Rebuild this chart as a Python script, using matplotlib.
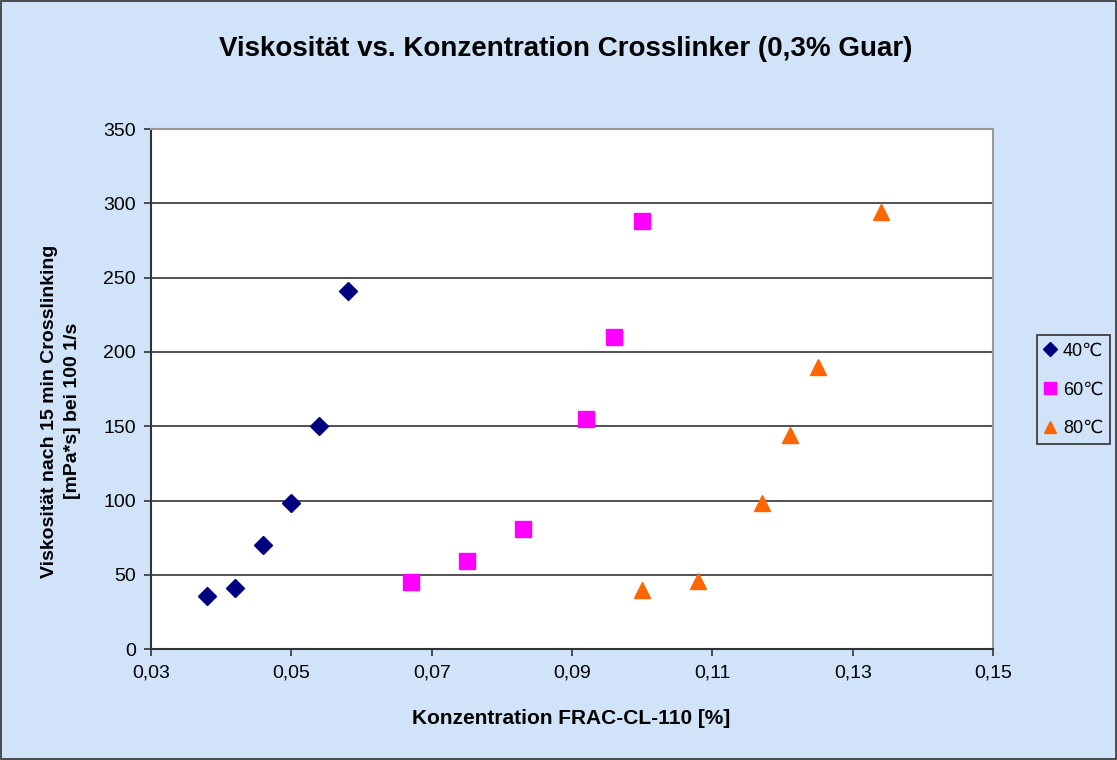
import numpy as np
from matplotlib import pyplot as plt
import matplotlib.patches as mpatches

plt.rcParams['font.family'] = ['Liberation Sans', 'DejaVu Sans']

# Messwerte
x40 = [0.038, 0.042, 0.046, 0.050, 0.054, 0.058]
y40 = [36, 41, 70, 98, 150, 241]
x60 = [0.067, 0.075, 0.083, 0.092, 0.096, 0.100]
y60 = [45, 59, 81, 155, 210, 288]
x80 = [0.100, 0.108, 0.117, 0.121, 0.125, 0.134]
y80 = [40, 46, 98, 144, 190, 294]
labels = ['40\u2103', '60\u2103', '80\u2103']
xticks = [0.03, 0.05, 0.07, 0.09, 0.11, 0.13, 0.15]
yticks = [0, 50, 100, 150, 200, 250, 300, 350]

bg = '#D0E3F8'
fig = plt.figure(figsize=(11.17, 7.6), dpi=100, facecolor=bg)
fig.patches.append(mpatches.Rectangle((0.001, 0.001), 0.998, 0.998, transform=fig.transFigure,
                                      fill=False, edgecolor='#333333', lw=1.2))
ax = fig.add_axes([0.1352, 0.146, 0.754, 0.684])
ax.set_facecolor('white')

ax.plot(x40, y40, 'D', color='#000080', ms=9, ls='none', label=labels[0])
ax.plot(x60, y60, 's', color='#FF00FF', ms=12, ls='none', label=labels[1])
ax.plot(x80, y80, '^', color='#FF6600', ms=12, ls='none', label=labels[2])

ax.set_xlim(0.03, 0.15)
ax.set_ylim(0, 350)
ax.set_xticks(xticks)
ax.set_xticklabels([('%.2f' % t).replace('.', ',') for t in xticks], fontsize=14)
ax.set_yticks(yticks)
ax.set_yticklabels([str(t) for t in yticks], fontsize=14)
ax.tick_params(direction='out', length=5, width=1.2, color='#333333', pad=6)
ax.yaxis.grid(True, color='#333333', lw=1.2)
ax.set_axisbelow(True)
for s in ['top', 'right']:
    ax.spines[s].set_color('#999999')
    ax.spines[s].set_linewidth(1.5)
for s in ['left', 'bottom']:
    ax.spines[s].set_color('#333333')
    ax.spines[s].set_linewidth(1.5)

fig.text(0.506, 0.935, 'Viskosit\u00e4t vs. Konzentration Crosslinker (0,3% Guar)',
         ha='center', va='center', fontsize=20, fontweight='bold')
fig.text(0.511, 0.055, 'Konzentration FRAC-CL-110 [%]',
         ha='center', va='center', fontsize=15, fontweight='bold')
fig.text(0.0546, 0.459, 'Viskosit\u00e4t nach 15 min Crosslinking\n[mPa*s] bei 100 1/s',
         ha='center', va='center', rotation=90, fontsize=14, fontweight='bold',
         linespacing=1.45, multialignment='center')

leg = ax.legend(loc='center left', bbox_to_anchor=(0.928, 0.487), bbox_transform=fig.transFigure,
                fontsize=13, frameon=True,
                fancybox=False, facecolor=bg, edgecolor='#333333', framealpha=1,
                markerscale=0.75, handlelength=0.7, handletextpad=0.35, borderpad=0.4,
                labelspacing=1.2, borderaxespad=0)
leg.get_frame().set_linewidth(1.2)

plt.savefig('out.png', dpi=100, facecolor=bg)
